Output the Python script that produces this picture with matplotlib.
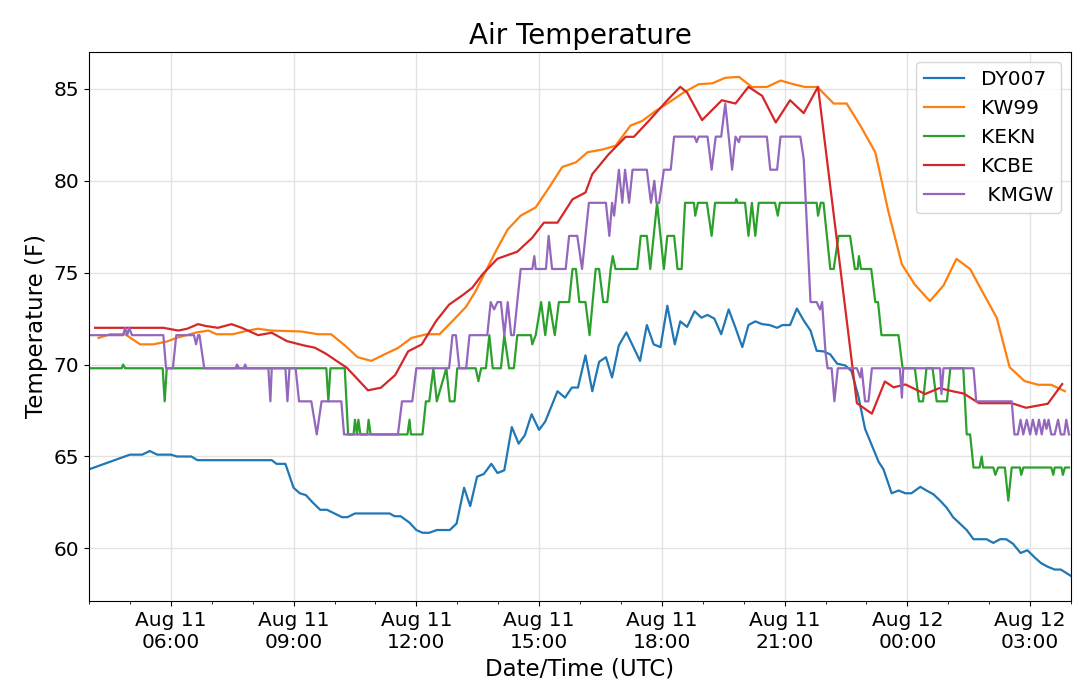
import numpy as np
import matplotlib
matplotlib.use('Agg')
import matplotlib.pyplot as plt
import matplotlib.dates as mdates

# Readings as (minutes after Aug 11 04:00 UTC, temperature in F)
START = np.datetime64('2018-08-11T04:00')

dy007 = [(0, 64.3), (60, 65.1), (78, 65.1), (89, 65.3), (100, 65.1), (120, 65.1), (129, 65.0),
         (150, 65.0), (159, 64.8), (268, 64.8), (275, 64.6), (288, 64.6), (300, 63.3), (309, 63.0),
         (318, 62.9), (328, 62.5), (339, 62.1), (349, 62.1), (360, 61.9), (371, 61.7), (379, 61.7),
         (390, 61.9), (441, 61.9), (448, 61.75), (457, 61.75), (470, 61.4), (480, 61.0), (489, 60.85),
         (499, 60.85), (510, 61.0), (529, 61.0), (539, 61.35), (550, 63.3), (559, 62.3), (569, 63.9),
         (579, 64.05), (590, 64.6), (599, 64.1), (609, 64.25), (620, 66.6), (630, 65.7), (639, 66.15),
         (649, 67.3), (660, 66.45), (669, 66.9), (687, 68.55), (698, 68.2), (708, 68.75), (717, 68.75),
         (728, 70.5), (738, 68.55), (748, 70.15), (758, 70.4), (767, 69.3), (777, 71.05), (788, 71.75),
         (808, 70.2), (818, 72.15), (828, 71.1), (838, 70.95), (848, 73.2), (859, 71.1), (867, 72.35),
         (877, 72.05), (888, 72.9), (898, 72.55), (907, 72.7), (917, 72.5), (927, 71.65), (938, 73.0),
         (948, 72.0), (958, 70.95), (967, 72.15), (977, 72.35), (987, 72.2), (998, 72.15), (1009, 72.0),
         (1017, 72.15), (1028, 72.15), (1038, 73.05), (1048, 72.4), (1058, 71.85), (1067, 70.75),
         (1077, 70.72), (1087, 70.55), (1097, 70.05), (1109, 69.95), (1118, 69.65), (1128, 68.3),
         (1138, 66.5), (1148, 65.6), (1158, 64.7), (1165, 64.3), (1177, 63.0), (1187, 63.15),
         (1197, 63.0), (1206, 63.0), (1219, 63.35), (1228, 63.15), (1238, 62.95), (1248, 62.6),
         (1258, 62.2), (1267, 61.7), (1277, 61.35), (1287, 61.0), (1297, 60.5), (1306, 60.5),
         (1316, 60.5), (1326, 60.3), (1336, 60.5), (1345, 60.5), (1355, 60.25), (1366, 59.75),
         (1376, 59.9), (1387, 59.5), (1396, 59.2), (1406, 59.0), (1416, 58.85), (1425, 58.85),
         (1440, 58.5)]

kw99 = [(14, 71.45), (31, 71.65), (53, 71.65), (75, 71.1), (94, 71.1), (114, 71.25), (128, 71.45),
        (158, 71.75), (175, 71.85), (187, 71.65), (211, 71.65), (233, 71.85), (248, 71.95),
        (267, 71.85), (311, 71.8), (336, 71.65), (355, 71.65), (375, 71.05), (394, 70.4), (414, 70.2),
        (433, 70.55), (453, 70.9), (473, 71.45), (495, 71.65), (514, 71.65), (533, 72.37), (553, 73.15),
        (567, 74.0), (582, 75.1), (597, 76.2), (614, 77.35), (633, 78.1), (655, 78.55), (675, 79.65),
        (694, 80.75), (714, 81.0), (731, 81.55), (753, 81.7), (772, 81.9), (794, 83.0), (811, 83.25),
        (831, 83.8), (850, 84.25), (872, 84.8), (894, 85.25), (914, 85.3), (933, 85.6), (953, 85.65),
        (972, 85.1), (994, 85.1), (1014, 85.45), (1033, 85.25), (1050, 85.1), (1068, 85.1),
        (1092, 84.2), (1111, 84.2), (1131, 83.0), (1153, 81.55), (1172, 78.35), (1192, 75.45),
        (1211, 74.35), (1233, 73.45), (1253, 74.3), (1272, 75.75), (1292, 75.2), (1311, 73.9),
        (1331, 72.55), (1350, 69.85), (1372, 69.1), (1392, 68.9), (1411, 68.9), (1431, 68.55)]

kekn = [(0, 69.8), (48, 69.8), (50, 70.0), (53, 69.8), (108, 69.8), (111, 68.0), (114, 69.8),
        (348, 69.8), (351, 68.0), (354, 69.8), (375, 69.8), (380, 66.2), (388, 66.2), (390, 67.0),
        (393, 66.2), (395, 67.0), (398, 66.2), (408, 66.2), (410, 67.0), (413, 66.2), (467, 66.2),
        (470, 67.0), (472, 66.2), (489, 66.2), (494, 68.0), (499, 68.0), (505, 69.8), (510, 68.0),
        (524, 69.8), (529, 68.0), (536, 68.0), (540, 69.8), (567, 69.8), (571, 69.1), (575, 69.8),
        (582, 69.8), (587, 71.6), (592, 69.8), (604, 69.8), (609, 71.6), (616, 69.8), (623, 69.8),
        (628, 71.6), (648, 71.6), (650, 71.1), (655, 71.6), (663, 73.4), (669, 71.6), (675, 73.4),
        (683, 71.6), (689, 73.4), (704, 73.4), (709, 75.2), (714, 75.2), (719, 73.4), (728, 73.4),
        (734, 71.6), (743, 75.2), (748, 75.2), (754, 73.4), (760, 73.4), (765, 75.2), (768, 75.9),
        (772, 75.2), (804, 75.2), (809, 77.0), (818, 77.0), (823, 75.2), (828, 77.0), (833, 78.8),
        (838, 77.0), (843, 75.2), (848, 77.0), (858, 77.0), (863, 75.2), (869, 75.2), (874, 78.8),
        (887, 78.8), (889, 78.1), (893, 78.8), (906, 78.8), (913, 77.0), (918, 78.8), (948, 78.8),
        (949, 79.0), (951, 78.8), (962, 78.8), (967, 77.0), (972, 78.8), (977, 77.0), (982, 78.8),
        (1006, 78.8), (1010, 78.1), (1013, 78.8), (1067, 78.8), (1069, 78.1), (1073, 78.8),
        (1077, 78.8), (1087, 75.2), (1092, 75.2), (1099, 77.0), (1116, 77.0), (1123, 75.2),
        (1127, 75.2), (1129, 75.9), (1132, 75.2), (1147, 75.2), (1153, 73.4), (1157, 73.4),
        (1162, 71.6), (1187, 71.6), (1193, 69.8), (1211, 69.8), (1217, 68.0), (1223, 68.0),
        (1228, 69.8), (1237, 69.8), (1243, 68.0), (1258, 68.0), (1263, 69.8), (1282, 69.8),
        (1287, 66.2), (1292, 66.2), (1297, 64.4), (1306, 64.4), (1309, 65.0), (1311, 64.4),
        (1326, 64.4), (1329, 64.0), (1333, 64.4), (1343, 64.4), (1348, 62.6), (1353, 64.4),
        (1365, 64.4), (1367, 64.0), (1370, 64.4), (1411, 64.4), (1414, 64.0), (1416, 64.4),
        (1426, 64.4), (1428, 64.0), (1431, 64.4), (1437, 64.4)]

kcbe = [(9, 72.0), (109, 72.0), (131, 71.85), (144, 71.95), (160, 72.2), (171, 72.1), (189, 72.0),
        (209, 72.2), (224, 72.0), (248, 71.6), (268, 71.73), (290, 71.28), (314, 71.05), (331, 70.92),
        (347, 70.6), (365, 70.15), (378, 69.83), (394, 69.2), (409, 68.6), (428, 68.74), (449, 69.43),
        (468, 70.72), (488, 71.1), (509, 72.37), (528, 73.26), (548, 73.78), (562, 74.18), (577, 74.91),
        (599, 75.76), (628, 76.14), (650, 76.9), (667, 77.72), (687, 77.72), (709, 78.99), (728, 79.36),
        (738, 80.36), (762, 81.44), (787, 82.39), (799, 82.39), (821, 83.26), (848, 84.38), (867, 85.11),
        (877, 84.8), (899, 83.3), (928, 84.38), (948, 84.2), (967, 85.11), (987, 84.62), (1007, 83.17),
        (1028, 84.38), (1048, 83.68), (1069, 85.11), (1126, 67.9), (1148, 67.33), (1167, 69.08),
        (1180, 68.76), (1197, 68.92), (1226, 68.4), (1247, 68.72), (1265, 68.56), (1283, 68.42),
        (1305, 67.9), (1353, 67.9), (1374, 67.65), (1406, 67.87), (1427, 68.94)]

kmgw = [(0, 71.6), (50, 71.6), (53, 72.0), (56, 71.6), (59, 72.0), (63, 71.6), (109, 71.6),
        (113, 69.8), (123, 69.8), (128, 71.6), (154, 71.6), (157, 71.1), (160, 71.6), (162, 71.6),
        (169, 69.8), (215, 69.8), (217, 70.0), (220, 69.8), (227, 69.8), (229, 70.0), (231, 69.8),
        (263, 69.8), (266, 68.0), (268, 69.8), (288, 69.8), (291, 68.0), (294, 69.8), (303, 69.8),
        (308, 68.0), (326, 68.0), (334, 66.2), (341, 68.0), (370, 68.0), (374, 66.2), (453, 66.2),
        (459, 68.0), (474, 68.0), (480, 69.8), (528, 69.8), (533, 71.6), (538, 71.6), (543, 69.8),
        (553, 69.8), (558, 71.6), (584, 71.6), (589, 73.4), (594, 73.0), (599, 73.4), (604, 73.4),
        (609, 71.6), (614, 73.4), (619, 71.6), (623, 71.6), (633, 75.2), (650, 75.2), (653, 75.9),
        (655, 75.2), (670, 75.2), (674, 77.0), (679, 75.2), (699, 75.2), (704, 77.0), (716, 77.0),
        (723, 75.2), (733, 78.8), (758, 78.8), (763, 77.0), (767, 78.8), (770, 78.1), (772, 78.8),
        (777, 80.6), (782, 78.8), (786, 80.6), (792, 78.8), (797, 80.6), (818, 80.6), (824, 78.8),
        (829, 80.0), (832, 78.8), (836, 78.8), (843, 80.6), (853, 80.6), (858, 82.4), (888, 82.4),
        (891, 82.1), (894, 82.4), (907, 82.4), (913, 80.6), (919, 82.4), (927, 82.4), (933, 84.2),
        (943, 80.6), (948, 82.4), (953, 82.1), (955, 82.4), (994, 82.4), (999, 80.6), (1009, 80.6),
        (1014, 82.4), (1043, 82.4), (1048, 81.2), (1058, 73.4), (1067, 73.4), (1072, 73.0),
        (1075, 73.4), (1080, 70.65), (1083, 69.8), (1089, 69.8), (1093, 68.0), (1098, 69.8),
        (1126, 69.8), (1131, 69.3), (1133, 69.8), (1138, 68.0), (1143, 68.0), (1148, 69.8),
        (1189, 69.8), (1192, 68.2), (1194, 69.8), (1248, 69.8), (1250, 68.4), (1253, 69.8),
        (1297, 69.8), (1301, 68.0), (1353, 68.0), (1357, 66.2), (1362, 66.2), (1366, 67.0),
        (1370, 66.2), (1375, 67.0), (1380, 66.2), (1384, 67.0), (1389, 66.2), (1393, 67.0),
        (1397, 66.2), (1401, 67.0), (1404, 66.5), (1407, 67.0), (1411, 66.2), (1416, 66.2),
        (1421, 67.0), (1425, 66.2), (1430, 66.2), (1433, 67.0), (1437, 66.2)]

stations = [('DY007', dy007), ('KW99', kw99), ('KEKN', kekn), ('KCBE', kcbe), (' KMGW', kmgw)]


def to_series(pairs):
    mins = np.array([p[0] for p in pairs])
    temps = np.array([p[1] for p in pairs])
    times = START + mins.astype('timedelta64[m]')
    return times.astype('datetime64[ms]').astype(object), temps


fig = plt.figure(figsize=(10.8, 6.86), dpi=100)
ax = fig.add_axes([0.0824, 0.124, 0.9093, 0.8003])

for name, pairs in stations:
    t, v = to_series(pairs)
    ax.plot(t, v, linewidth=1.6, label=name)

ax.margins(x=0)
ax.set_yticks([60, 65, 70, 75, 80, 85])
ax.xaxis.set_major_locator(mdates.HourLocator(byhour=range(0, 24, 3)))
ax.xaxis.set_minor_locator(mdates.HourLocator())
ax.xaxis.set_major_formatter(mdates.DateFormatter('%b %d\n%H:%M'))
ax.tick_params(axis='both', which='major', labelsize=14.5)
ax.grid(True, which='major', color='#e3e3e3', linewidth=1.0)
ax.set_axisbelow(True)

ax.set_title('Air Temperature', fontsize=20)
ax.set_xlabel('Date/Time (UTC)', fontsize=16.5)
ax.set_ylabel('Temperature (F)', fontsize=16.5)
ax.legend(loc='upper right', fontsize=14.5)

fig.savefig('out.png', dpi=100)
